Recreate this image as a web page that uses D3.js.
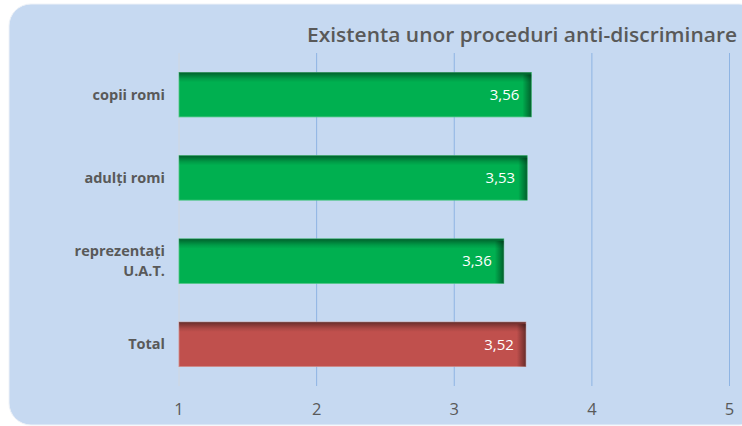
<!DOCTYPE html>
<html lang="ro">
<head>
<meta charset="UTF-8" />
<title>Existenta unor proceduri anti-discriminare</title>
<script src="https://d3js.org/d3.v7.min.js"></script>
<style>
  body { margin: 0; background: #ffffff; }
  svg { display: block; }
</style>
</head>
<body>
<script>
  // data
  var categories = [["copii romi"], ["adulţi romi"], ["reprezentaţi", "U.A.T."], ["Total"]];
  var values = [3.56, 3.53, 3.36, 3.52];
  var labels = ["3,56", "3,53", "3,36", "3,52"];
  var ticks = [1, 2, 3, 4, 5];
  var title = "Existenta unor proceduri anti-discriminare";

  var w = 742, h = 426;
  var svg = d3.select("body").append("svg").attr("width", w).attr("height", h);

  var defs = svg.append("defs");
  // top bevel
  var gTop = defs.append("linearGradient").attr("id", "bevTop")
      .attr("x1", 0).attr("y1", 0).attr("x2", 0).attr("y2", 1);
  gTop.append("stop").attr("offset", "0%").attr("stop-color", "#000").attr("stop-opacity", 0.45);
  gTop.append("stop").attr("offset", "14%").attr("stop-color", "#000").attr("stop-opacity", 0.12);
  gTop.append("stop").attr("offset", "22%").attr("stop-color", "#000").attr("stop-opacity", 0);
  // right bevel
  var gRight = defs.append("linearGradient").attr("id", "bevRight")
      .attr("x1", 0).attr("y1", 0).attr("x2", 1).attr("y2", 0);
  gRight.append("stop").attr("offset", "0%").attr("stop-color", "#000").attr("stop-opacity", 0);
  gRight.append("stop").attr("offset", "100%").attr("stop-color", "#000").attr("stop-opacity", 0.45);

  // background panel
  svg.append("rect")
    .attr("x", 9).attr("y", 4).attr("width", 752).attr("height", 421)
    .attr("rx", 22).attr("ry", 22)
    .attr("fill", "#c6d9f1")
    .attr("stroke", "#eef2f8").attr("stroke-width", 1);

  var xScale = d3.scaleLinear().domain([1, 5]).range([179, 729.5]);
  var yScale = d3.scaleBand().domain(d3.range(categories.length))
      .range([53, 386]).paddingInner(0.465).paddingOuter(0.233);

  // gridlines
  svg.selectAll("line.grid")
    .data(ticks)
    .enter()
    .append("line")
    .attr("class", "grid")
    .attr("x1", function (d) { return xScale(d); })
    .attr("x2", function (d) { return xScale(d); })
    .attr("y1", 53)
    .attr("y2", 386)
    .attr("stroke", function (d) { return d === 1 ? "#d0d7e0" : "#8eb4e3"; })
    .attr("stroke-width", 1);

  // bars
  var bars = svg.selectAll("g.bar")
    .data(values)
    .enter()
    .append("g")
    .attr("class", "bar");

  bars.append("rect")
    .attr("x", xScale(1))
    .attr("y", function (d, i) { return yScale(i); })
    .attr("width", function (d) { return xScale(d) - xScale(1); })
    .attr("height", yScale.bandwidth())
    .attr("fill", function (d, i) { return i === 3 ? "#c0504d" : "#00b050"; })
    .attr("stroke", function (d, i) { return i === 3 ? "#d08b89" : "#4cc683"; })
    .attr("stroke-width", 0.8);

  bars.append("rect")
    .attr("x", xScale(1))
    .attr("y", function (d, i) { return yScale(i); })
    .attr("width", function (d) { return xScale(d) - xScale(1); })
    .attr("height", yScale.bandwidth())
    .attr("fill", "url(#bevTop)");

  bars.append("rect")
    .attr("x", function (d) { return xScale(d) - 9; })
    .attr("y", function (d, i) { return yScale(i) + 2; })
    .attr("width", 9)
    .attr("height", yScale.bandwidth() - 2)
    .attr("fill", "url(#bevRight)");

  // value labels
  svg.selectAll("text.val")
    .data(values)
    .enter()
    .append("text")
    .attr("class", "val")
    .text(function (d, i) { return labels[i]; })
    .attr("x", function (d) { return xScale(d) - 12; })
    .attr("y", function (d, i) { return yScale(i) + yScale.bandwidth() / 2; })
    .attr("dy", "0.35em")
    .attr("text-anchor", "end")
    .attr("fill", "#ffffff")
    .attr("font-family", "Open Sans, sans-serif")
    .attr("font-size", "15px");

  // category labels
  var cat = svg.selectAll("text.cat")
    .data(categories)
    .enter()
    .append("text")
    .attr("class", "cat")
    .attr("text-anchor", "end")
    .attr("fill", "#595959")
    .attr("font-family", "Open Sans, sans-serif")
    .attr("font-weight", "bold")
    .attr("font-size", "14.5px");

  cat.selectAll("tspan")
    .data(function (d, i) {
      return d.map(function (t, j) { return { t: t, j: j, n: d.length, i: i }; });
    })
    .enter()
    .append("tspan")
    .attr("x", 165)
    .attr("y", function (d) {
      return yScale(d.i) + yScale.bandwidth() / 2 + (d.j - (d.n - 1) / 2) * 20;
    })
    .attr("dy", "0.35em")
    .text(function (d) { return d.t; });

  // x axis tick labels
  svg.selectAll("text.tick")
    .data(ticks)
    .enter()
    .append("text")
    .attr("class", "tick")
    .text(function (d) { return d; })
    .attr("x", function (d) { return xScale(d); })
    .attr("y", 409)
    .attr("dy", "0.35em")
    .attr("text-anchor", "middle")
    .attr("fill", "#595959")
    .attr("font-family", "Open Sans, sans-serif")
    .attr("font-size", "16.5px");

  // title
  svg.append("text")
    .text(title)
    .attr("x", 307)
    .attr("y", 42)
    .attr("textLength", 430)
    .attr("lengthAdjust", "spacingAndGlyphs")
    .attr("fill", "#595959")
    .attr("font-family", "Open Sans, sans-serif")
    .attr("font-weight", 600)
    .attr("font-size", "20px");
</script>
</body>
</html>
